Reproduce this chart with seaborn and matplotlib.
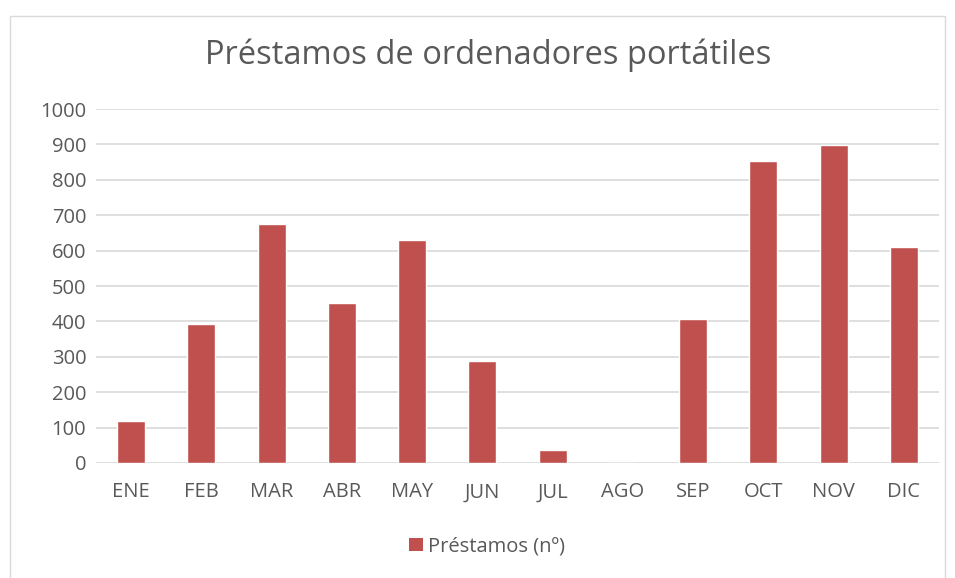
import pandas as pd
import matplotlib.pyplot as plt
import seaborn as sns
from matplotlib.patches import Rectangle, Patch

meses = ['ENE', 'FEB', 'MAR', 'ABR', 'MAY', 'JUN', 'JUL', 'AGO', 'SEP', 'OCT', 'NOV', 'DIC']
prestamos = [119, 392, 676, 451, 629, 289, 37, 0, 406, 853, 897, 609]
yticks = [0, 100, 200, 300, 400, 500, 600, 700, 800, 900, 1000]

df = pd.DataFrame({'mes': meses, 'prestamos': prestamos})

sns.set_style('white')
plt.rcParams['font.family'] = ['Open Sans', 'DejaVu Sans']

fig = plt.figure(figsize=(9.55, 5.78), dpi=100)
ax = fig.add_axes([96 / 955, 115 / 578, 843 / 955, 354 / 578])

sns.barplot(data=df, x='mes', y='prestamos', color='#C0504D', width=0.4,
            saturation=1, ax=ax, zorder=3)

ax.set_ylim(0, 1000)
ax.set_yticks(yticks)
ax.set_xlim(-0.5, len(meses) - 0.5)
ax.grid(axis='y', color='#D9D9D9', linewidth=1.2, zorder=0)
for s in ax.spines.values():
    s.set_visible(False)
ax.tick_params(axis='both', length=0, labelsize=14.5, colors='#595959')
ax.tick_params(axis='y', pad=7)
ax.tick_params(axis='x', pad=14)
ax.set_xlabel('')
ax.set_ylabel('')

fig.text(0.511, 0.905, 'Préstamos de ordenadores portátiles', ha='center', va='center',
         fontsize=23.5, color='#595959')

handle = Patch(facecolor='#C0504D', edgecolor='none')
fig.legend([handle], ['Préstamos (nº)'], loc='center', bbox_to_anchor=(0.51, 0.0545),
           frameon=False, fontsize=14.5, labelcolor='#595959', handlelength=0.65,
           handleheight=0.65, handletextpad=0.25)

# marco del gráfico
fig.patches.append(Rectangle((10 / 955, -0.01), 935 / 955, 568 / 578, transform=fig.transFigure,
                             fill=False, edgecolor='#D9D9D9', linewidth=1))

fig.savefig('out.png', dpi=100)
